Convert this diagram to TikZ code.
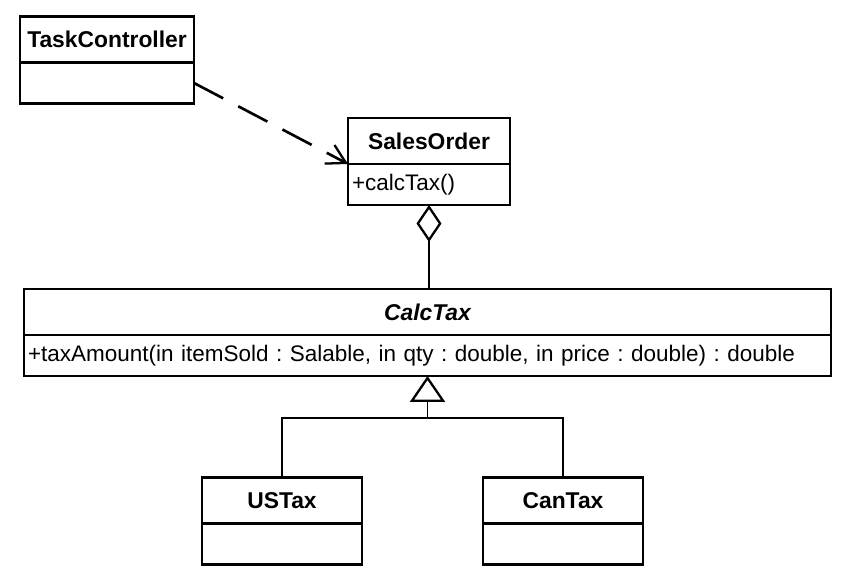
\documentclass[tikz,border=0pt]{standalone}
\usepackage{fontspec}
\setmainfont{Liberation Sans}
\frenchspacing
\usetikzlibrary{positioning, arrows.meta}

\tikzset{
  umlhead/.style={draw, line width=1.3pt, outer sep=0pt, inner sep=0pt,
    minimum height=0.92cm, font=\bfseries\fontsize{13}{15}\selectfont},
  umlbody/.style={draw, line width=1.3pt, outer sep=0pt, inner xsep=0.08cm,
    minimum height=0.82cm, align=left, font=\fontsize{12.8}{15}\selectfont},
  depend/.style={line width=1.5pt, dash pattern=on 0.66cm off 0.34cm,
    -{Straight Barb[length=0.37cm, width=0.42cm, line width=1.3pt]}},
  aggreg/.style={line width=1pt, {Diamond[open, length=0.74cm, width=0.5cm, line width=1.3pt]}-},
  inherit/.style={line width=1pt, -{Triangle[open, length=0.52cm, width=0.7cm, line width=1.3pt]}},
}

\begin{document}
\begin{tikzpicture}[x=0.02cm, y=-0.02cm]
  \useasboundingbox (0,0) rectangle (867,588);

  % Classes
  \node[umlhead, minimum width=3.48cm] (tc) at (107,39.5) {TaskController};
  \node[umlbody, minimum width=3.48cm, below=0pt of tc] (tcb) {};

  \node[umlhead, minimum width=3.24cm] (so) at (429,141) {SalesOrder};
  \node[umlbody, text width=3.08cm, below=0pt of so] (sob) {+calcTax()};

  \node[umlhead, minimum width=16.14cm] (ct) at (427.5,312) {\itshape CalcTax};
  \node[umlbody, text width=15.98cm, below=0pt of ct] (ctb)
    {+taxAmount(in itemSold : Salable, in qty : double, in price : double) : double};

  \node[umlhead, minimum width=3.2cm] (us) at (282,500.5) {USTax};
  \node[umlbody, minimum width=3.2cm, below=0pt of us] (usb) {};

  \node[umlhead, minimum width=3.2cm] (can) at (563,500.5) {CanTax};
  \node[umlbody, minimum width=3.2cm, below=0pt of can] (canb) {};

  % Relations
  \draw[depend] (tcb.east) -- (so.south west);
  \draw[aggreg] (sob.south) -- (sob.south |- ct.north);

  \coordinate[below=0.84cm of ctb] (fork);
  \draw[line width=1pt] (us.north) |- (fork) -| (can.north);
  \draw[inherit] (fork) -- (ctb.south);
\end{tikzpicture}
\end{document}
